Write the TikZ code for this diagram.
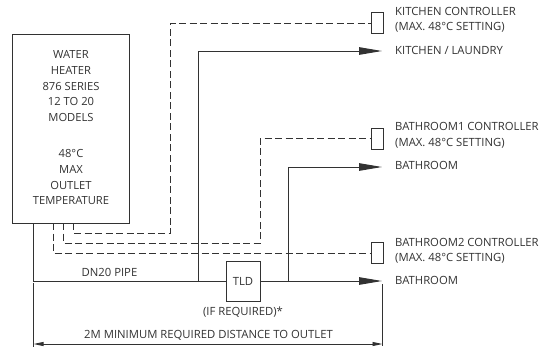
\documentclass[tikz,border=0pt]{standalone}
\usepackage{xcolor}
\usepackage{fontspec}
\setmainfont{Open Sans}
\usetikzlibrary{arrows.meta, positioning, calc}
\definecolor{mydark}{RGB}{50,50,50}
\tikzset{
  label/.style={anchor=west, align=left, inner sep=0pt, font=\fontsize{11.3bp}{15.5bp}\selectfont, text=mydark},
  heaterbox/.style={draw=mydark, line width=1bp, minimum width=116bp, minimum height=189bp, inner sep=0pt},
  ctrlbox/.style={draw=mydark, line width=1bp, minimum width=12bp, minimum height=21bp, inner sep=0pt},
  tldbox/.style={draw=mydark, line width=1bp, minimum width=34bp, minimum height=40bp, inner sep=0pt, font=\fontsize{11.3bp}{14bp}\selectfont, text=mydark},
  pipe/.style={draw=mydark, line width=1bp},
  feedarrow/.style={pipe, -{Triangle[length=23bp,width=7.5bp]}},
  wire/.style={draw=mydark, line width=1bp, dash pattern=on 7bp off 3.5bp},
  dimline/.style={draw=mydark, line width=0.9bp},
  dimarrow/.style={dimline, {Triangle[length=10bp,width=4bp]}-{Triangle[length=10bp,width=4bp]}}
}
\begin{document}
\begin{tikzpicture}[x=1bp,y=-1bp]
  \useasboundingbox (0,0) rectangle (550,349);
  % Water heater
  \node[heaterbox] (heater) at (71,128.5) {};
  \node[label, anchor=north, align=center, font=\fontsize{11.2bp}{15.7bp}\selectfont] (heatertext) at (71,50.5) {WATER\\HEATER\\876 SERIES\\12 TO 20\\MODELS\\[20.5bp]48°C\\MAX\\OUTLET\\TEMPERATURE};
  % Controllers
  \node[ctrlbox] (kitchenctrl) at (377,23) {};
  \node[ctrlbox] (bath1ctrl) at (377,138.5) {};
  \node[ctrlbox] (bath2ctrl) at (377,253) {};
  \node[tldbox] (tld) at (243,281) {TLD};
  % Outlet labels
  \node[label] (kitchenctrltext) at (395,20) {KITCHEN CONTROLLER\\(MAX. 48°C SETTING)};
  \node[label] (kitchentext) at (395,50) {KITCHEN / LAUNDRY};
  \node[label] (bath1ctrltext) at (395,135.5) {BATHROOM1 CONTROLLER\\(MAX. 48°C SETTING)};
  \node[label] (bath1text) at (395,165) {BATHROOM};
  \node[label] (bath2ctrltext) at (395,251) {BATHROOM2 CONTROLLER\\(MAX. 48°C SETTING)};
  \node[label] (bath2text) at (395,280) {BATHROOM};
  \node[label, anchor=center] (pipetext) at (109.5,272) {DN20 PIPE};
  \node[label, anchor=center] (iftext) at (243,312) {(IF REQUIRED)*};
  \node[label, anchor=center] (disttext) at (208.5,335) {2M MINIMUM REQUIRED DISTANCE TO OUTLET};
  % Ends and junctions
  \coordinate (pipeout) at (33,223);
  \coordinate (pipecorner) at (33,281);
  \coordinate (kitchentee) at (198,281);
  \coordinate (kitchencorner) at (198,51);
  \coordinate (kitchenend) at (382,51);
  \coordinate (bathtee) at (288,281);
  \coordinate (bathcorner) at (288,167);
  \coordinate (bathend) at (382,167);
  \coordinate (mainend) at (382,281);
  % Pipes
  \draw[pipe] (pipeout) -- (pipecorner) -- (tld.west);
  \draw[feedarrow] (kitchentee) -- (kitchencorner) -- (kitchenend);
  \draw[feedarrow] (bathtee) -- (bathcorner) -- (bathend);
  \draw[feedarrow] (tld.east) -- (mainend);
  % Controller wires
  \coordinate (kitchenwire) at (73.5,223);
  \coordinate (bath1wire) at (63.5,223);
  \coordinate (bath2wire) at (53,223);
  \draw[wire] (kitchenwire) -- (73.5,233) -- (170.5,233) -- (170.5,23) -- (kitchenctrl.west);
  \draw[wire] (bath1wire) -- (63.5,243) -- (260,243) -- (260,138.5) -- (bath1ctrl.west);
  \draw[wire] (bath2wire) -- (53,253) -- (bath2ctrl.west);
  % Distance
  \coordinate (distleft) at (33.5,283);
  \coordinate (distright) at (382.5,284);
  \coordinate (distleftend) at (33.5,347);
  \coordinate (distrightend) at (382.5,346);
  \draw[dimline] (distleft) -- (distleftend);
  \draw[dimline] (distright) -- (distrightend);
  \draw[dimarrow] (33.5,344) -- (382.5,344);
\end{tikzpicture}
\end{document}
